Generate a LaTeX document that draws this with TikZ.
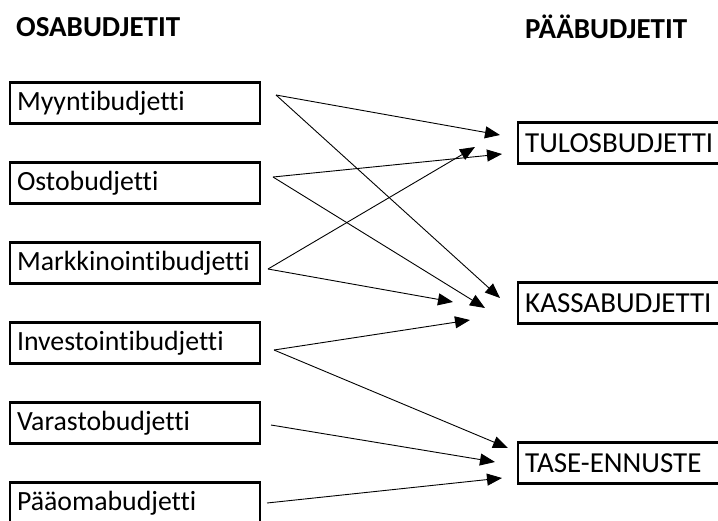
\documentclass[tikz,border=0pt]{standalone}
\usepackage{fontspec}
\setmainfont{Carlito}[Ligatures={NoCommon,NoContextual}]
\usetikzlibrary{arrows.meta}
\begin{document}
\begin{tikzpicture}[x=1pt,y=-1pt]
		\tikzstyle{every node}=[font=\fontsize{27.8}{32}\selectfont];
		\tikzstyle{osa}=[draw,line width=2.4pt,minimum height=41pt,text width=236pt,inner xsep=7pt,align=left];
		\tikzstyle{paa}=[draw,line width=2.4pt,minimum height=41pt,text width=200pt,inner xsep=7pt,align=left,anchor=west,font=\fontsize{29}{32}\selectfont];
		\tikzstyle{otsikko}=[inner sep=0pt,anchor=west,font=\fontsize{29}{32}\selectfont\bfseries];
		\tikzstyle{nuoli}=[line width=0.9pt,-{Triangle[length=15pt,width=12pt]}];
		\useasboundingbox (0,0) rectangle (718,520);
		\node[otsikko] (osa) at (16,27) {OSABUDJETIT};
		\node[otsikko] (paa) at (525,27) {PÄÄBUDJETIT};
		\node[osa] (myynti) at (135,103) {Myyntibudjetti};
		\node[osa] (osto) at (135,183) {Ostobudjetti};
		\node[osa] (markk) at (135,263) {Markkinointibudjetti};
		\node[osa] (invest) at (135,343) {Investointibudjetti};
		\node[osa] (varasto) at (135,423) {Varastobudjetti};
		\node[osa] (paaoma) at (135,503) {Pääomabudjetti};
		\node[paa] (tulos) at (517,143) {TULOSBUDJETTI};
		\node[paa] (kassa) at (517,303) {KASSABUDJETTI};
		\node[paa] (tase) at (517,463) {TASE-ENNUSTE};
		% alkupisteet
		\coordinate (m0) at (276,95);
		\coordinate (o0) at (273,177);
		\coordinate (k0) at (268,269);
		\coordinate (i0) at (274,350);
		\coordinate (v0) at (271,425);
		\coordinate (p0) at (267,503);
		% nuolenkarjet
		\coordinate (t1) at (500,135);
		\coordinate (t2) at (502,154);
		\coordinate (t3) at (475,147);
		\coordinate (ka1) at (500,298);
		\coordinate (ka2) at (485,308);
		\coordinate (ka3) at (453,302);
		\coordinate (ka4) at (470,320);
		\coordinate (s1) at (508,448);
		\coordinate (s2) at (495,462);
		\coordinate (s3) at (502,478);
		\foreach \a/\b in {m0/t1,m0/ka1,o0/t2,o0/ka2,k0/t3,k0/ka3,i0/ka4,i0/s1,v0/s2,p0/s3}
			\draw[nuoli] (\a) -- (\b);
	\end{tikzpicture}
\end{document}
